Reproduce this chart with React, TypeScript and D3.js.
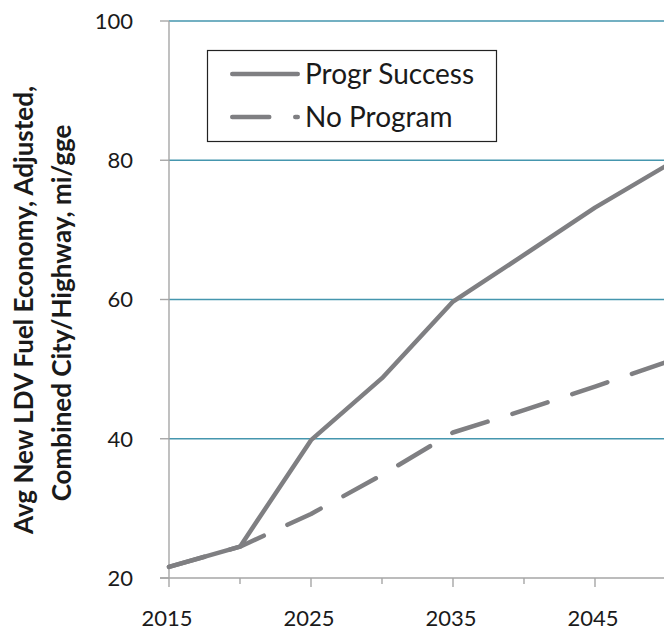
import React, { useRef, useEffect } from "react";
import * as d3 from "d3";

const width = 664;
const height = 633;

const years = [2015, 2020, 2025, 2030, 2035, 2040, 2045, 2050];
const progrSuccess = [21.6, 24.5, 39.8, 48.7, 59.7, 66.4, 73.2, 79.2];
const noProgram = [21.6, 24.5, 29.2, 34.8, 40.9, 44.1, 47.5, 51.0];
const xTicks = [2015, 2020, 2025, 2030, 2035, 2040, 2045];
const xTickLabels = [2015, 2025, 2035, 2045];
const yTicks = [20, 40, 60, 80, 100];
const yTitle = ["Avg New LDV Fuel Economy, Adjusted,", "Combined City/Highway, mi/gge"];
const seriesNames = ["Progr Success", "No Program"];

const font = "Lato, 'Open Sans', sans-serif";
const lineColor = "#7f7f82";
const gridColor = "#4596ae";
const axisColor = "#a6a6a6";
const dash = "37,26";

const App = () => {
    const svgRef = useRef(null);

    useEffect(() => {
        const svg = d3.select(svgRef.current);
        svg.selectAll("*").remove();

        const x = d3.scaleLinear().domain([2015, 2050]).range([169, 666]);
        const y = d3.scaleLinear().domain([20, 100]).range([578, 21]);

        // gridlines
        svg.append("g")
            .selectAll("line")
            .data(yTicks.filter((d) => d > 20))
            .enter()
            .append("line")
            .attr("x1", x(2015))
            .attr("x2", x(2050))
            .attr("y1", (d) => y(d))
            .attr("y2", (d) => y(d))
            .attr("stroke", gridColor)
            .attr("stroke-width", 1.4);

        // y axis
        const yAxis = svg.append("g");
        yAxis.append("line")
            .attr("x1", x(2015)).attr("x2", x(2015))
            .attr("y1", y(100)).attr("y2", y(20))
            .attr("stroke", axisColor).attr("stroke-width", 1.4);
        yAxis.selectAll(".tick")
            .data(yTicks)
            .enter()
            .append("line")
            .attr("x1", x(2015) - 9).attr("x2", x(2015))
            .attr("y1", (d) => y(d)).attr("y2", (d) => y(d))
            .attr("stroke", axisColor).attr("stroke-width", 1.4);
        yAxis.selectAll("text")
            .data(yTicks)
            .enter()
            .append("text")
            .attr("x", 133)
            .attr("y", (d) => y(d))
            .attr("dy", "0.36em")
            .attr("text-anchor", "end")
            .attr("font-family", font)
            .attr("font-size", 22)
            .attr("fill", "#1a1a1a")
            .text((d) => d);

        // x axis
        const xAxis = svg.append("g");
        xAxis.append("line")
            .attr("x1", x(2015) - 9).attr("x2", x(2050))
            .attr("y1", y(20)).attr("y2", y(20))
            .attr("stroke", axisColor).attr("stroke-width", 1.4);
        xAxis.selectAll(".tick")
            .data(xTicks)
            .enter()
            .append("line")
            .attr("x1", (d) => x(d)).attr("x2", (d) => x(d))
            .attr("y1", y(20))
            .attr("y2", (d) => y(20) + (xTickLabels.includes(d) ? 9 : 6))
            .attr("stroke", axisColor).attr("stroke-width", 1.4);
        xAxis.selectAll("text")
            .data(xTickLabels)
            .enter()
            .append("text")
            .attr("x", (d) => x(d) - 2)
            .attr("y", 626)
            .attr("text-anchor", "middle")
            .attr("font-family", font)
            .attr("font-size", 22)
            .attr("fill", "#1a1a1a")
            .text((d) => d);

        // y title
        svg.append("g")
            .selectAll("text")
            .data(yTitle)
            .enter()
            .append("text")
            .attr("transform", (d, i) => (i === 0 ? "translate(33,310) rotate(-90)" : "translate(71,313) rotate(-90)"))
            .attr("text-anchor", "middle")
            .attr("font-family", font)
            .attr("font-weight", "bold")
            .attr("font-size", 26)
            .attr("fill", "#1a1a1a")
            .text((d) => d);

        // lines
        const line = d3.line()
            .x((d) => x(d[0]))
            .y((d) => y(d[1]));

        svg.append("path")
            .datum(years.map((yr, i) => [yr, noProgram[i]]))
            .attr("d", line)
            .attr("fill", "none")
            .attr("stroke", lineColor)
            .attr("stroke-width", 4.5)
            .attr("stroke-linecap", "round")
            .attr("stroke-linejoin", "round")
            .attr("stroke-dasharray", dash);

        svg.append("path")
            .datum(years.map((yr, i) => [yr, progrSuccess[i]]))
            .attr("d", line)
            .attr("fill", "none")
            .attr("stroke", lineColor)
            .attr("stroke-width", 4.5)
            .attr("stroke-linecap", "round")
            .attr("stroke-linejoin", "round");

        // legend
        const legend = svg.append("g");
        legend.append("rect")
            .attr("x", 207.5).attr("y", 50.5)
            .attr("width", 289).attr("height", 91)
            .attr("fill", "#fff")
            .attr("stroke", "#222")
            .attr("stroke-width", 1.2);
        const rows = legend.selectAll(".row")
            .data(seriesNames)
            .enter()
            .append("g")
            .attr("transform", (d, i) => `translate(0, ${i === 0 ? 74 : 117})`);
        rows.append("line")
            .attr("x1", 232.25).attr("x2", 297.75)
            .attr("y1", 0).attr("y2", 0)
            .attr("stroke", lineColor)
            .attr("stroke-width", 4.5)
            .attr("stroke-linecap", "round")
            .attr("stroke-dasharray", (d, i) => (i === 0 ? null : dash));
        rows.append("text")
            .attr("x", 305)
            .attr("dy", "0.36em")
            .attr("font-family", font)
            .attr("font-size", 28)
            .attr("fill", "#1a1a1a")
            .text((d) => d);
    }, []);

    return (
        <svg
            ref={svgRef}
            width={width}
            height={height}
            style={{ position: "absolute", left: 0, top: 0, background: "#fff" }}
        ></svg>
    );
};

export default App;
